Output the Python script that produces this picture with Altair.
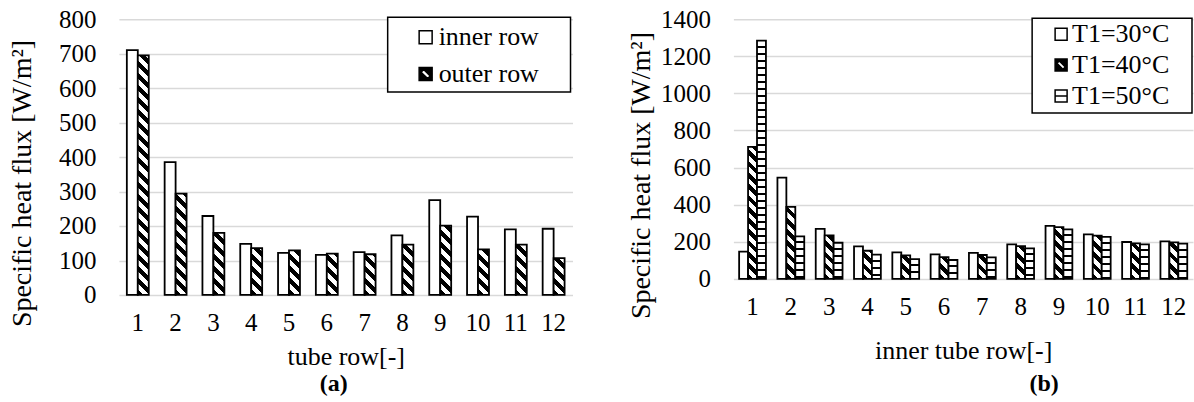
import math
import altair as alt

FONT = "Liberation Serif, Times New Roman, Times, serif"

# ---------------- data ----------------
rows = [str(i) for i in range(1, 13)]

a_series = ["inner row", "outer row"]
a_inner = [710, 385, 229, 148, 122, 116, 124, 173, 275, 227, 190, 192]
a_outer = [695, 294, 180, 136, 129, 120, 118, 146, 201, 132, 146, 107]

b_series = ["T1=30°C", "T1=40°C", "T1=50°C"]
b_30 = [147, 546, 270, 175, 143, 132, 140, 186, 286, 240, 199, 202]
b_40 = [712, 388, 235, 152, 127, 118, 129, 177, 279, 233, 192, 197]
b_50 = [1284, 229, 195, 131, 107, 102, 116, 165, 267, 227, 186, 190]

a_ticks = list(range(0, 801, 100))
b_ticks = list(range(0, 1401, 200))

# ---------------- layout ----------------
AW, AH, A_MAX = 454, 276, 800
BW, BH, B_MAX = 460, 260, 1400
A_PAD, B_PAD = 0.42, 0.30


# ---------------- hatch fills (linear gradients with hard stops) ----------------
def diag_fill(h, w, period=8.5, frac=0.5):
    h = max(h, 1.0)
    r = w / h
    s = (h + w) / (h * (1 + r * r))
    n = (h + w) / (math.sqrt(2) * period)
    stops = []
    k = 0
    while k / n < 1:
        a = k / n
        b = min((k + frac) / n, 1)
        c = min((k + 1) / n, 1)
        stops += [
            {"offset": a, "color": "black"},
            {"offset": b, "color": "black"},
            {"offset": b, "color": "white"},
            {"offset": c, "color": "white"},
        ]
        k += 1
    return {"gradient": "linear", "x1": 0, "y1": 1, "x2": s * r, "y2": 1 - s, "stops": stops}


def horiz_fill(h, period=7.0, line=2.0):
    h = max(h, 1.0)
    n = h / period
    f = line / period
    stops = []
    k = 0
    while k / n < 1:
        a = k / n
        b = min((k + 1 - f) / n, 1)
        c = min((k + 1) / n, 1)
        stops += [
            {"offset": a, "color": "white"},
            {"offset": b, "color": "white"},
            {"offset": b, "color": "black"},
            {"offset": c, "color": "black"},
        ]
        k += 1
    return {"gradient": "linear", "x1": 0, "y1": 0, "x2": 0, "y2": 1, "stops": stops}


wa = AW / 12 * (1 - A_PAD) / 2
wb = BW / 12 * (1 - B_PAD) / 3

a_records = []
for i, row in enumerate(rows):
    a_records.append({"row": row, "series": a_series[0], "value": a_inner[i], "grad": "white"})
    a_records.append({"row": row, "series": a_series[1], "value": a_outer[i],
                      "grad": diag_fill(a_outer[i] * AH / A_MAX, wa)})

b_records = []
for i, row in enumerate(rows):
    b_records.append({"row": row, "series": b_series[0], "value": b_30[i], "grad": "white"})
    b_records.append({"row": row, "series": b_series[1], "value": b_40[i],
                      "grad": diag_fill(b_40[i] * BH / B_MAX, wb, period=8.0)})
    b_records.append({"row": row, "series": b_series[2], "value": b_50[i],
                      "grad": horiz_fill(b_50[i] * BH / B_MAX)})

P_BOX = "M-1,-1H1V1H-1Z"
P_DIAG = "M-1,-1H1V1H-1Z M-0.7,-0.3L0.3,0.7L0.7,0.3L-0.3,-0.7Z"
P_HLINE = "M-1,-1H1V1H-1Z M-1,0H1"


def legend_layers(series, fills, paths, box, sym_x, rows_y, txt_x, sym_size):
    one = alt.Data(values=[{"k": 0}])
    out = [alt.Chart(one).mark_rect(fill="white", stroke="black", strokeWidth=1.5).encode(
        x=alt.value(box[0]), x2=alt.value(box[1]), y=alt.value(box[2]), y2=alt.value(box[3]))]
    for s, f, p, yy in zip(series, fills, paths, rows_y):
        out.append(alt.Chart(one).mark_point(shape=p, size=sym_size, filled=True, fill=f,
                                             stroke="black", strokeWidth=1.5, opacity=1).encode(
            x=alt.value(sym_x), y=alt.value(yy)))
        out.append(alt.Chart(one).mark_text(text=s, align="left", baseline="middle", font=FONT,
                                            fontSize=26, color="black").encode(
            x=alt.value(txt_x), y=alt.value(yy)))
    return out


def panel(records, series, width, height, ymax, ticks, pad, xtitle, xtitle_pad,
          ytitle, ytitle_pad, ytitle_y, legend, caption, cap_dx, cap_off):
    data = alt.Data(values=records)
    x = alt.X("row:N", sort=rows,
              scale=alt.Scale(domain=rows, paddingInner=pad, paddingOuter=pad / 2),
              axis=alt.Axis(title=xtitle, labelAngle=0, domain=False, ticks=False,
                            grid=False, labelFont=FONT, labelFontSize=25,
                            labelColor="black", labelPadding=16,
                            titleFont=FONT, titleFontSize=26, titleFontWeight="normal",
                            titleColor="black", titlePadding=xtitle_pad))
    y = alt.Y("value:Q", stack=None,
              scale=alt.Scale(domain=[0, ymax], nice=False),
              axis=alt.Axis(title=ytitle, values=ticks, format="d", domain=False, ticks=False,
                            grid=True, gridColor="#d9d9d9", gridWidth=1.5,
                            labelFont=FONT, labelFontSize=25, labelColor="black",
                            labelPadding=23, titleFont=FONT, titleFontSize=28,
                            titleFontWeight="normal", titleColor="black",
                            titlePadding=ytitle_pad, titleY=ytitle_y))
    bars = alt.Chart(data).mark_bar(stroke="black", strokeWidth=1.8).encode(
        x=x,
        xOffset=alt.XOffset("series:N", sort=series,
                            scale=alt.Scale(domain=series, paddingInner=0, paddingOuter=0)),
        y=y,
        fill=alt.Fill("grad:N", scale=None),
    )
    return alt.layer(bars, *legend).properties(
        width=width, height=height,
        title=alt.TitleParams(caption, orient="bottom", anchor="middle", font=FONT,
                              fontSize=24, fontWeight="bold", color="black",
                              dx=cap_dx, offset=cap_off),
    )


leg_a = legend_layers(a_series, ["white", "black"], [P_BOX, P_DIAG],
                      (269, 452, -2, 73), 307, [18, 55], 320, 169)
leg_b = legend_layers(b_series, ["white", "black", "white"], [P_BOX, P_DIAG, P_HLINE],
                      (299, 459, -1, 94), 328, [15, 46, 77], 339, 144)

pa = panel(a_records, a_series, AW, AH, A_MAX, a_ticks, A_PAD, "tube row[-]", 8,
           "Specific heat flux [W/m²]", 22, 164, leg_a, "(a)", -12, 2)
pb = panel(b_records, b_series, BW, BH, B_MAX, b_ticks, B_PAD, "inner tube row[-]", 18,
           "Specific heat flux [W/m²]", 5, 156, leg_b, "(b)", 81, 8)

chart = alt.hconcat(pa, pb, spacing=54).resolve_scale(
    x="independent", y="independent", xOffset="independent",
).properties(
    padding={"left": 8, "top": 7, "right": 1, "bottom": 0},
    background="white",
).configure(font=FONT).configure_view(stroke=None).configure_axis(
    labelFont=FONT, titleFont=FONT
)

chart.save("out.html", embed_options={"renderer": "svg", "actions": False})
